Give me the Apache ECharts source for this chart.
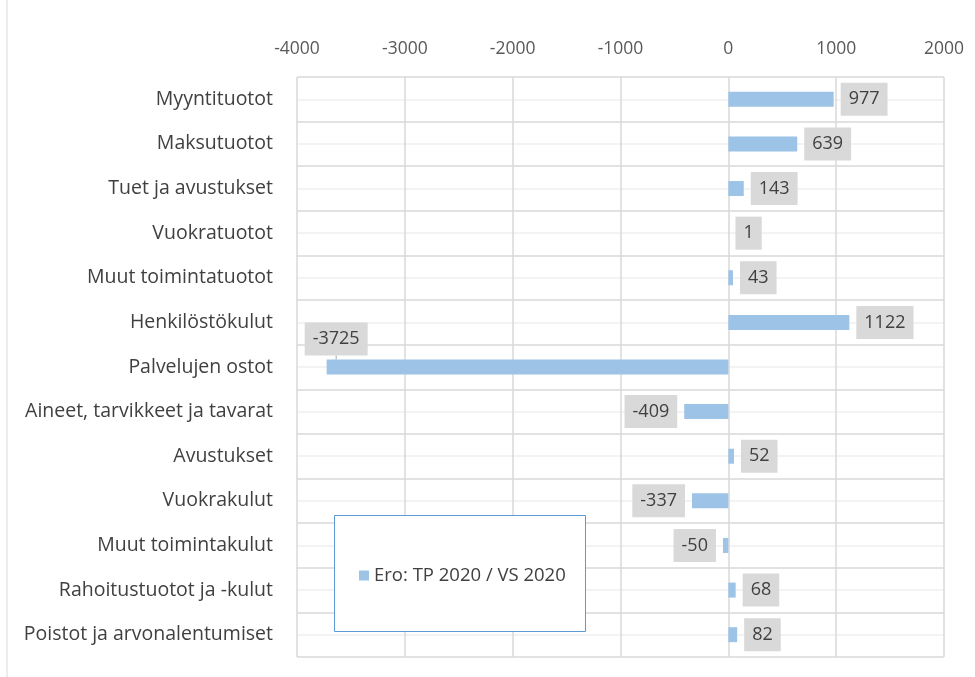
<!DOCTYPE html>
<html>
<head>
<meta charset="utf-8">
<script src="https://cdn.jsdelivr.net/npm/echarts@6/dist/echarts.min.js"></script>
<style>
html,body{margin:0;padding:0;background:#fff;}
#chart{width:975px;height:677px;}
</style>
</head>
<body>
<div id="chart"></div>
<script>
var categories = ['Myyntituotot','Maksutuotot','Tuet ja avustukset','Vuokratuotot','Muut toimintatuotot','Henkilöstökulut','Palvelujen ostot','Aineet, tarvikkeet ja tavarat','Avustukset','Vuokrakulut','Muut toimintakulut','Rahoitustuotot ja -kulut','Poistot ja arvonalentumiset'];
var values = [977, 639, 143, 1, 43, 1122, -3725, -409, 52, -337, -50, 68, 82];
var seriesName = 'Ero: TP 2020 / VS 2020';
var xTicks = [-4000, 2000, 1000];

var font = 'Open Sans';
var textColor = '#404040';

var chart = echarts.init(document.getElementById('chart'));

// the big negative bar has its label lifted above, with a leader line
var barData = values.map(function(v, i){
	return {
		value: v,
		label: { position: v < 0 ? 'left' : 'right' },
		labelLine: { show: i === 6 }
	};
});

var option = {
	backgroundColor: '#fff',
	animation: false,
	graphic: [
		{
			type: 'rect',
			shape: { x: 7, y: -10, width: 1000, height: 700 },
			style: { fill: 'none', stroke: '#d9d9d9', lineWidth: 1 },
			z: 0
		},
		{
			type: 'rect',
			shape: { x: 334.5, y: 515.5, width: 251, height: 116 },
			style: { fill: '#fff', stroke: '#5b9bd5', lineWidth: 1 },
			z: 3
		}
	],
	legend: {
		left: 354,
		top: 561,
		icon: 'rect',
		itemWidth: 10,
		itemHeight: 10,
		itemGap: 6,
		z: 4,
		textStyle: { fontFamily: font, fontSize: 18.5, color: textColor },
		data: [seriesName]
	},
	grid: { left: 297, right: 31, top: 77, bottom: 20, containLabel: false },
	xAxis: {
		type: 'value',
		position: 'top',
		min: xTicks[0],
		max: xTicks[1],
		interval: xTicks[2],
		axisLine: { show: false },
		axisTick: { show: false },
		axisLabel: {
			fontFamily: font, fontSize: 17.5, color: '#595959', margin: 19,
			formatter: function(v){ return String(v); }
		},
		splitLine: { lineStyle: { color: '#d9d9d9', width: 1.5 } }
	},
	yAxis: [
		{
			type: 'category',
			data: categories,
			inverse: true,
			axisLine: { show: false },
			axisTick: { show: false },
			splitLine: { show: false },
			axisLabel: { fontFamily: font, fontSize: 19.5, color: textColor, margin: 24 }
		},
		{
			type: 'value',
			min: 0,
			max: categories.length,
			interval: 1,
			position: 'right',
			axisLine: { show: false },
			axisTick: { show: false },
			axisLabel: { show: false },
			splitLine: { lineStyle: { color: '#d9d9d9', width: 1.5 } },
			minorTick: { show: false, splitNumber: 2 },
			minorSplitLine: { show: true, lineStyle: { color: '#efefef', width: 1.5 } }
		}
	],
	series: [
		{
			name: seriesName,
			type: 'bar',
			yAxisIndex: 0,
			data: barData,
			barWidth: 15,
			itemStyle: { color: '#9dc3e6' },
			label: {
				show: true,
				distance: 7,
				fontFamily: font,
				fontSize: 18,
				lineHeight: 18,
				color: textColor,
				backgroundColor: '#d9d9d9',
				padding: [8, 8, 7, 8],
				formatter: '{c}'
			},
			labelLine: { lineStyle: { color: '#a6a6a6', width: 1 } },
			labelLayout: function(params){
				if (params.dataIndex === 6) {
					return { dx: 48, dy: -28 };
				}
			}
		}
	]
};

chart.setOption(option);
</script>
</body>
</html>
